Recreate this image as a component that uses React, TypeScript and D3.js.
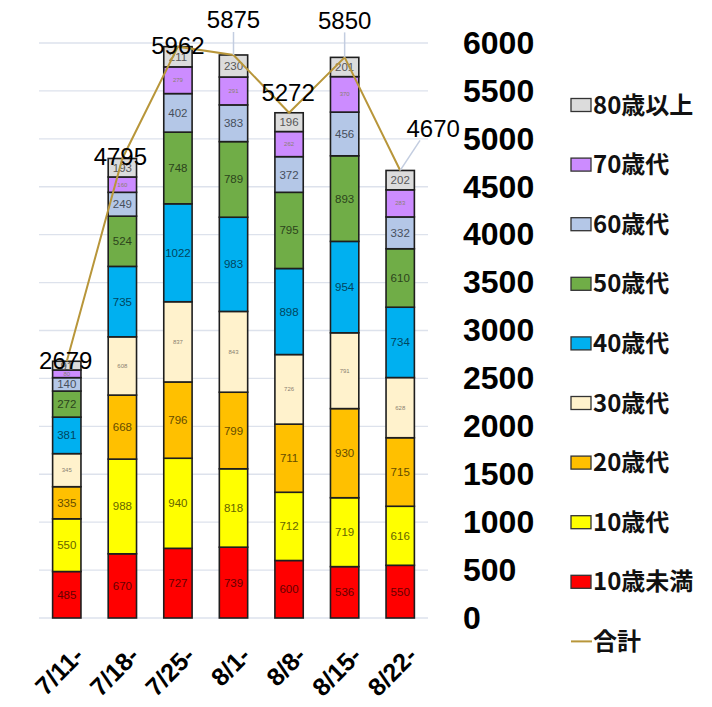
import React, { useEffect, useRef } from 'react';
import * as d3 from 'd3';

// weekly counts by age group
const weeks = ['7/11-', '7/18-', '7/25-', '8/1-', '8/8-', '8/15-', '8/22-'];
const ageGroups = ['10歳未満', '10歳代', '20歳代', '30歳代', '40歳代', '50歳代', '60歳代', '70歳代', '80歳以上'];
const under10 = [485, 670, 727, 739, 600, 536, 550];
const teens = [550, 988, 940, 818, 712, 719, 616];
const twenties = [335, 668, 796, 799, 711, 930, 715];
const thirties = [345, 608, 837, 843, 726, 791, 628];
const forties = [381, 735, 1022, 983, 898, 954, 734];
const fifties = [272, 524, 748, 789, 795, 893, 610];
const sixties = [140, 249, 402, 383, 372, 456, 332];
const seventies = [80, 160, 279, 291, 262, 370, 283];
const over80 = [91, 193, 211, 230, 196, 201, 202];
const totals = [2679, 4795, 5962, 5875, 5272, 5850, 4670];
const yTicks = [0, 500, 1000, 1500, 2000, 2500, 3000, 3500, 4000, 4500, 5000, 5500, 6000];

const series = [under10, teens, twenties, thirties, forties, fifties, sixties, seventies, over80];
const COLORS = ['#ff0000', '#ffff00', '#ffc000', '#fff2cc', '#00b0f0', '#70ad47', '#b4c7e7', '#cc8cff', '#dcdcdc'];
// groups whose segment labels are drawn tiny in the original
const TINY = ['30歳代', '70歳代'];

// where each total label sits relative to its point, and whether it has a leader line
const LABEL_SHIFT: [number, number, boolean][] = [
  [-1, -1, false], [-2, -2, false], [0, -1, false], [0, -35, true], [-1, -20, false], [0, -37, true], [33, -42, true],
];

const W = 712;
const H = 707;
const NUM_FONT = '"Liberation Sans", Arial, sans-serif';
const JP_FONT = '"Noto Sans CJK JP", sans-serif';

const App: React.FC = () => {
  const svgRef = useRef<SVGSVGElement>(null);

  useEffect(() => {
    document.body.style.margin = '0';
    const svg = d3.select(svgRef.current);
    svg.selectAll('*').remove();

    const x = d3.scaleBand<string>().domain(weeks).range([39, 428]).paddingInner(0.49).paddingOuter(0.245);
    const y = d3.scaleLinear().domain([0, 6000]).range([618, 43]);

    // gridlines
    svg.append('g')
      .selectAll('line')
      .data(yTicks)
      .enter().append('line')
      .attr('x1', 39)
      .attr('x2', 428)
      .attr('y1', d => y(d))
      .attr('y2', d => y(d))
      .attr('stroke', '#dde2ec')
      .attr('stroke-width', 1.3);

    // stacked bars
    const rows = weeks.map((w, i) => {
      const r: any = { week: w };
      ageGroups.forEach((g, k) => { r[g] = series[k][i]; });
      return r;
    });
    const stacked = d3.stack<any>().keys(ageGroups)(rows);

    const layers = svg.append('g')
      .selectAll('g')
      .data(stacked)
      .enter().append('g')
      .attr('fill', (_, k) => COLORS[k]);

    layers.selectAll('rect')
      .data(d => d)
      .enter().append('rect')
      .attr('x', d => x(d.data.week)!)
      .attr('width', x.bandwidth())
      .attr('y', d => y(d[1]))
      .attr('height', d => y(d[0]) - y(d[1]))
      .attr('stroke', '#1e1e1e')
      .attr('stroke-width', 1.6);

    stacked.forEach((layer, k) => {
      const tiny = TINY.includes(layer.key);
      const col = d3.color(COLORS[k])!.darker(2.6).formatHex();
      svg.append('g')
        .selectAll('text')
        .data(layer)
        .enter().append('text')
        .attr('x', d => x(d.data.week)! + x.bandwidth() / 2)
        .attr('y', d => (y(d[0]) + y(d[1])) / 2)
        .attr('dy', '0.35em')
        .attr('text-anchor', 'middle')
        .style('font-family', NUM_FONT)
        .style('font-size', tiny ? '6px' : '11.5px')
        .style('fill', tiny ? '#8a8170' : col)
        .text(d => d.data[layer.key]);
    });

    // total line
    const cx = (i: number) => x(weeks[i])! + x.bandwidth() / 2;
    const line = d3.line<number>().x((_, i) => cx(i)).y(d => y(d));
    svg.append('path')
      .datum(totals)
      .attr('fill', 'none')
      .attr('stroke', '#b8963a')
      .attr('stroke-width', 2)
      .attr('d', line);

    // leader lines + total labels
    totals.forEach((t, i) => {
      const [dx, dy, leader] = LABEL_SHIFT[i];
      if (leader) {
        svg.append('line')
          .attr('x1', cx(i) + dx * 0.6)
          .attr('y1', y(t) + dy + 12)
          .attr('x2', cx(i))
          .attr('y2', y(t))
          .attr('stroke', '#c3cde0')
          .attr('stroke-width', 1.5);
      }
      svg.append('text')
        .attr('x', cx(i) + dx)
        .attr('y', y(t) + dy)
        .attr('dy', '0.35em')
        .attr('text-anchor', 'middle')
        .style('font-family', NUM_FONT)
        .style('font-size', '24px')
        .style('fill', '#000')
        .text(t);
    });

    // right-hand value axis
    const yAxis = d3.axisRight(y).tickValues(yTicks).tickSize(0).tickPadding(0).tickFormat(d => String(d));
    const ax = svg.append('g').attr('transform', 'translate(463,0)').call(yAxis);
    ax.select('.domain').remove();
    ax.selectAll('text')
      .style('font-family', NUM_FONT)
      .style('font-size', '32px')
      .style('font-weight', 'bold')
      .style('fill', '#000');

    // category labels
    svg.append('g')
      .selectAll('text')
      .data(weeks)
      .enter().append('text')
      .attr('transform', d => `translate(${x(d)! + x.bandwidth() / 2 + 6},${645}) rotate(-45)`)
      .attr('text-anchor', 'end')
      .attr('dy', '0.7em')
      .style('font-family', NUM_FONT)
      .style('font-size', '25px')
      .style('font-weight', 'bold')
      .text(d => d);

    // legend, top to bottom
    const legendItems = [...ageGroups].reverse().concat(['合計']);
    const legend = svg.selectAll('.legend')
      .data(legendItems)
      .enter().append('g')
      .attr('class', 'legend')
      .attr('transform', (_, i) => `translate(571,${105 + i * 59.6})`);

    legend.each(function (d) {
      const g = d3.select(this);
      if (d === '合計') {
        g.append('line').attr('x1', 0).attr('x2', 21).attr('y1', 0).attr('y2', 0)
          .attr('stroke', '#b8963a').attr('stroke-width', 2);
      } else {
        g.append('rect').attr('x', 0).attr('y', -6.5).attr('width', 20).attr('height', 13)
          .attr('fill', COLORS[ageGroups.indexOf(d)])
          .attr('stroke', '#333')
          .attr('stroke-width', 1.3);
      }
    });

    legend.append('text')
      .attr('x', 22)
      .attr('dy', '0.36em')
      .style('font-family', JP_FONT)
      .style('font-size', '24px')
      .style('font-weight', 'bold')
      .style('fill', '#111')
      .text(d => d);
  }, []);

  return <svg ref={svgRef} width={W} height={H} style={{ display: 'block', background: '#fff' }}></svg>;
};

export default App;
